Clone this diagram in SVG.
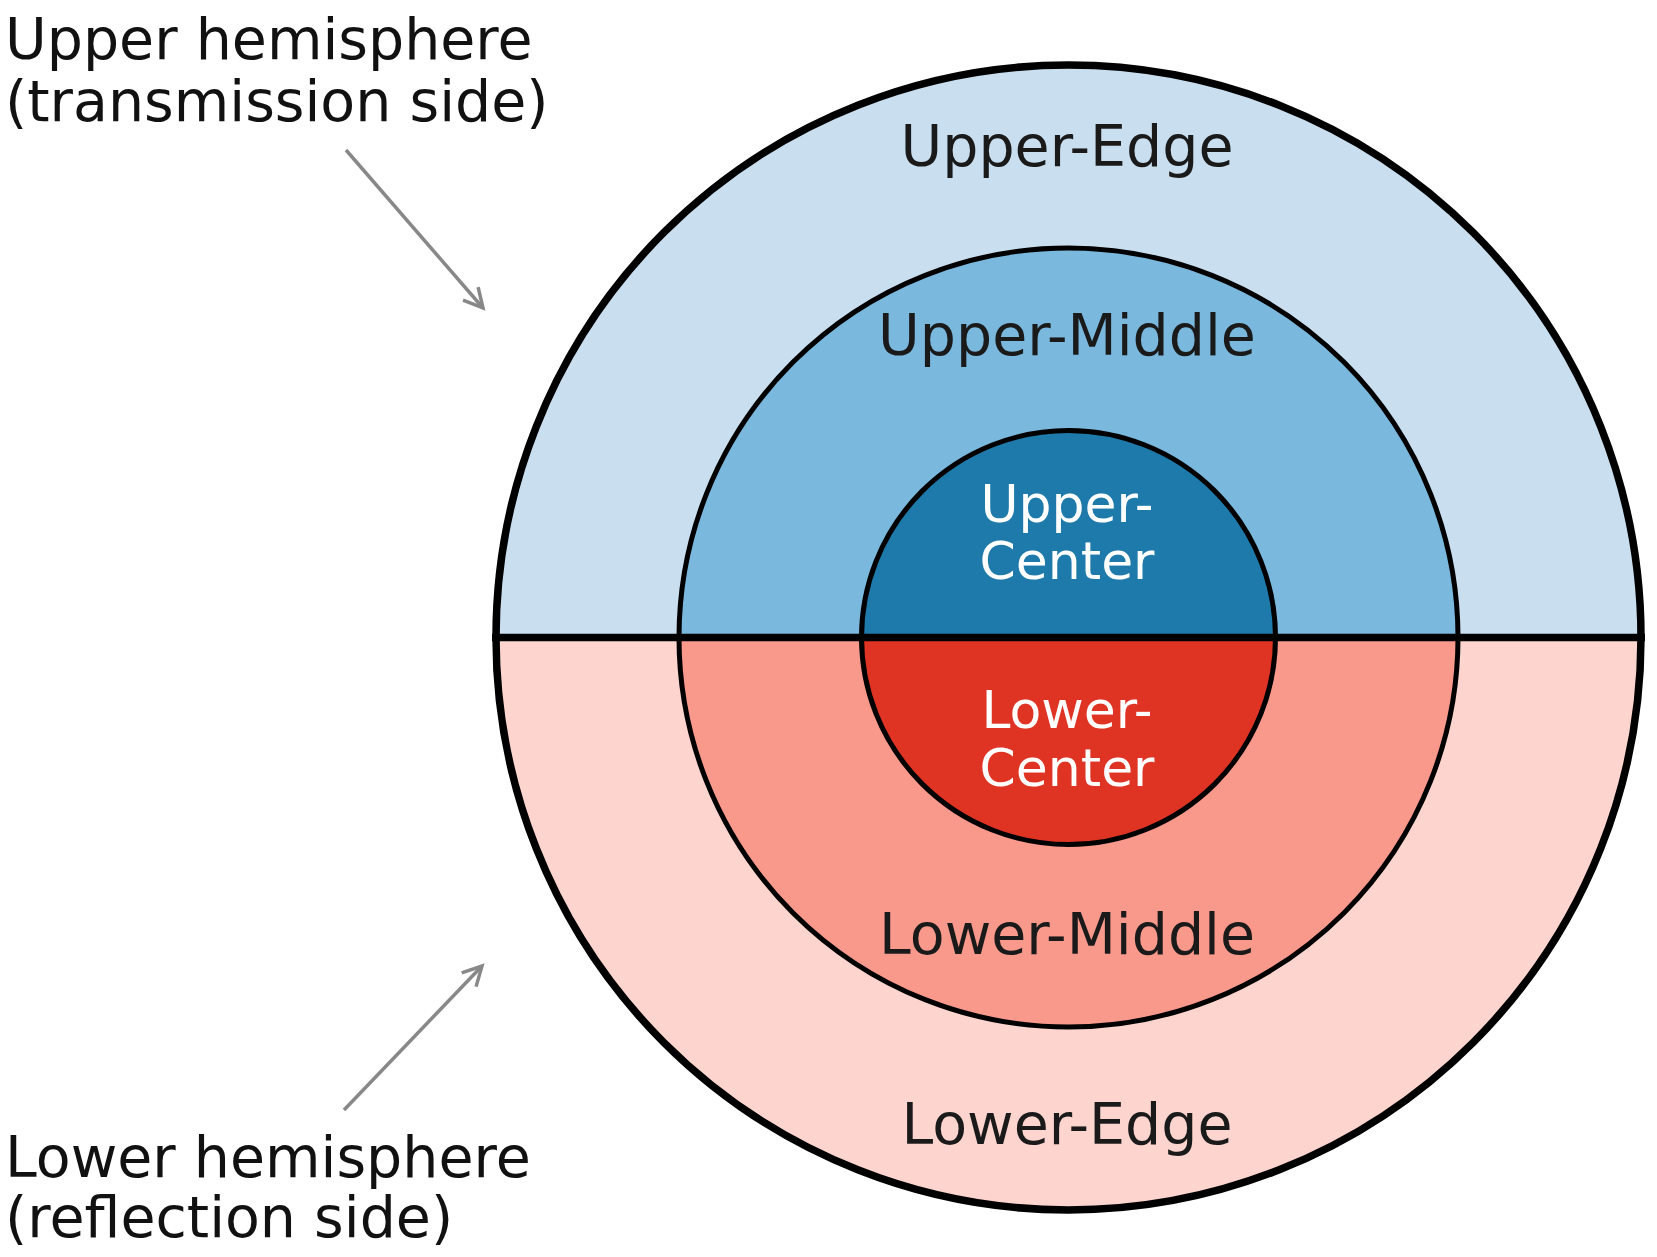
<svg xmlns="http://www.w3.org/2000/svg" width="1657" height="1257" viewBox="0 0 1657 1257">
<defs>
<style>
.lbl{font-family:"DejaVu Sans",sans-serif;font-size:57px;text-anchor:middle;fill:#1a1a1a}
.wlbl{font-family:"DejaVu Sans",sans-serif;font-size:52px;text-anchor:middle;fill:#ffffff}
.side{font-family:"DejaVu Sans",sans-serif;font-size:57px;fill:#111111}
.ring{stroke:#000;stroke-width:5}
.conn{stroke:#888;stroke-width:3.5;fill:none}
</style>
<marker id="arr" viewBox="0 0 24 24" refX="21" refY="12" markerWidth="24" markerHeight="24" orient="auto" markerUnits="userSpaceOnUse" style="overflow:visible">
<path d="M2,2 L21,12 L2,22" fill="none" stroke="#888" stroke-width="3.5" stroke-linejoin="miter"/>
</marker>
</defs>
<rect width="1657" height="1257" fill="#ffffff"/>
<g id="upper-edge">
<path d="M496,637.5 A572.5,572.5 0 0 1 1641,637.5 Z" fill="#c9dff0"/>
</g>
<g id="lower-edge">
<path d="M496,637.5 A572.5,572.5 0 0 0 1641,637.5 Z" fill="#fdd4ce"/>
</g>
<g id="upper-middle">
<path d="M679,637.5 A389.5,389.5 0 0 1 1458,637.5 Z" fill="#7ab8de"/>
</g>
<g id="lower-middle">
<path d="M679,637.5 A389.5,389.5 0 0 0 1458,637.5 Z" fill="#f9998b"/>
</g>
<g id="upper-center">
<path d="M861.5,637.5 A207,207 0 0 1 1275.5,637.5 Z" fill="#1e7aab"/>
</g>
<g id="lower-center">
<path d="M861.5,637.5 A207,207 0 0 0 1275.5,637.5 Z" fill="#df3424"/>
</g>
<g id="outlines" fill="none">
<circle cx="1068.5" cy="637.5" r="572.5" stroke="#000" stroke-width="7.5"/>
<circle cx="1068.5" cy="637.5" r="389.5" class="ring"/>
<circle cx="1068.5" cy="637.5" r="207" class="ring"/>
<line x1="492" y1="637.5" x2="1645" y2="637.5" stroke="#000" stroke-width="7.5"/>
</g>
<g id="labels">
<text class="lbl" x="1067" y="166">Upper-Edge</text>
<text class="lbl" x="1067" y="355">Upper-Middle</text>
<text class="wlbl" x="1067" y="522">Upper-</text>
<text class="wlbl" x="1067" y="579">Center</text>
<text class="wlbl" x="1067" y="728">Lower-</text>
<text class="wlbl" x="1067" y="786">Center</text>
<text class="lbl" x="1067" y="954">Lower-Middle</text>
<text class="lbl" x="1067" y="1144">Lower-Edge</text>
</g>
<g id="upper-hemisphere-label">
<text class="side" x="5" y="59">Upper hemisphere</text>
<text class="side" x="5" y="121">(transmission side)</text>
</g>
<g id="lower-hemisphere-label">
<text class="side" x="5" y="1177">Lower hemisphere</text>
<text class="side" x="5" y="1237">(reflection side)</text>
</g>
<g id="connectors">
<line class="conn" x1="346" y1="150" x2="483" y2="308" marker-end="url(#arr)"/>
<line class="conn" x1="344" y1="1110" x2="482" y2="966" marker-end="url(#arr)"/>
</g>
</svg>
